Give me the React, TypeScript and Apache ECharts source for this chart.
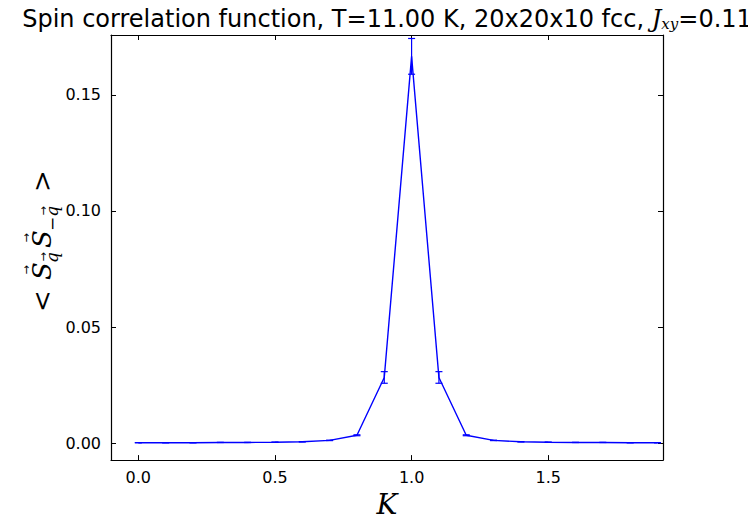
import React, { useEffect, useRef } from "react";
import * as echarts from "echarts";

const kValues = [0.0, 0.1, 0.2, 0.3, 0.4, 0.5, 0.6, 0.7, 0.8, 0.9, 1.0, 1.1, 1.2, 1.3, 1.4, 1.5, 1.6, 1.7, 1.8, 1.9];
const sValues = [0.0002, 0.0002, 0.0002, 0.0003, 0.0003, 0.0004, 0.0006, 0.0012, 0.0034, 0.0283, 0.1666, 0.0283, 0.0034, 0.0012, 0.0006, 0.0004, 0.0003, 0.0003, 0.0002, 0.0002];
const sErrors = [0.00002, 0.00002, 0.00002, 0.00003, 0.00003, 0.00004, 0.00006, 0.0001, 0.0002, 0.0025, 0.0077, 0.0025, 0.0002, 0.0001, 0.00006, 0.00004, 0.00003, 0.00003, 0.00002, 0.00002];
const xTicks = [0.0, 0.5, 1.0, 1.5];
const yTicks = [0.0, 0.05, 0.1, 0.15];

const BLUE = "#0000ff";
const SERIF = "DejaVu Serif";

function mathText(text: string, x: number, y: number, size: number, italic: boolean) {
  return {
    type: "text",
    x,
    y,
    style: {
      text,
      fontFamily: SERIF,
      fontStyle: italic ? "italic" : "normal",
      fontSize: size,
      fill: "#000",
      textAlign: "left",
      textVerticalAlign: "bottom",
    },
  };
}

function arrow(cx: number, y: number) {
  return {
    type: "text",
    x: cx,
    y,
    style: {
      text: "\u2192",
      fontFamily: "DejaVu Sans",
      fontSize: 11,
      fill: "#000",
      textAlign: "center",
      textVerticalAlign: "bottom",
    },
  };
}

export default function App() {
  const ref = useRef<HTMLDivElement>(null);
  useEffect(() => {
    if (!ref.current) return;
    const chart = echarts.init(ref.current, null, { renderer: "svg" });
    const lineData = kValues.map((k, i) => [k, sValues[i]]);
    const errData = kValues.map((k, i) => [k, sValues[i] - sErrors[i], sValues[i] + sErrors[i]]);
    const tickLabelStyle = { fontFamily: "DejaVu Sans", fontSize: 16, color: "#000" };
    const frameLine = { show: true, onZero: false, lineStyle: { color: "#000", width: 1.2 } };
    chart.setOption({
      animation: false,
      backgroundColor: "#fff",
      grid: { left: 111, right: 85, top: 35, bottom: 62, containLabel: false },
      graphic: [
        {
          type: "text",
          x: 387,
          y: 31,
          style: {
            text: "Spin correlation function, T=11.00 K, 20x20x10 fcc, {it|J}{sub|xy}=0.11",
            fontFamily: "DejaVu Sans",
            fontSize: 24,
            fill: "#000",
            textAlign: "center",
            textVerticalAlign: "bottom",
            rich: {
              it: { fontFamily: SERIF, fontStyle: "italic", fontSize: 24, color: "#000" },
              sub: { fontFamily: SERIF, fontStyle: "italic", fontSize: 15, verticalAlign: "bottom", color: "#000" },
            },
          },
        },
        {
          type: "group",
          x: 55,
          y: 240,
          rotation: Math.PI / 2,
          children: [
            mathText("<", -72, 0, 26, false),
            mathText("S", -40, 0, 26, true),
            arrow(-30, -23),
            mathText("q", -23, 5, 17, true),
            arrow(-17, -6),
            mathText("S", -8, 0, 26, true),
            arrow(2, -23),
            mathText("\u2212q", 9, 5, 17, true),
            arrow(29, -6),
            mathText(">", 48, 0, 26, false),
          ],
        },
      ],
      xAxis: [
        {
          type: "value",
          min: -0.1,
          max: 1.92,
          position: "bottom",
          name: "K",
          nameLocation: "middle",
          nameGap: 27,
          nameTextStyle: { fontFamily: SERIF, fontStyle: "italic", fontSize: 28, color: "#000" },
          axisLine: frameLine,
          axisTick: { show: true, inside: true, length: 5, customValues: xTicks, lineStyle: { color: "#000" } },
          axisLabel: { show: true, customValues: xTicks, margin: 9, formatter: (v: number) => v.toFixed(1), ...tickLabelStyle },
          splitLine: { show: false },
        },
        {
          type: "value",
          min: -0.1,
          max: 1.92,
          position: "top",
          axisLine: frameLine,
          axisTick: { show: true, inside: true, length: 5, customValues: xTicks, lineStyle: { color: "#000" } },
          axisLabel: { show: false },
          splitLine: { show: false },
        },
      ],
      yAxis: [
        {
          type: "value",
          min: -0.0073,
          max: 0.1758,
          position: "left",
          axisLine: frameLine,
          axisTick: { show: true, inside: true, length: 5, customValues: yTicks, lineStyle: { color: "#000" } },
          axisLabel: { show: true, customValues: yTicks, margin: 10, formatter: (v: number) => v.toFixed(2), ...tickLabelStyle },
          splitLine: { show: false },
        },
        {
          type: "value",
          min: -0.0073,
          max: 0.1758,
          position: "right",
          axisLine: frameLine,
          axisTick: { show: true, inside: true, length: 5, customValues: yTicks, lineStyle: { color: "#000" } },
          axisLabel: { show: false },
          splitLine: { show: false },
        },
      ],
      series: [
        {
          type: "line",
          data: lineData,
          xAxisIndex: 0,
          yAxisIndex: 0,
          showSymbol: false,
          symbol: "none",
          lineStyle: { color: BLUE, width: 1.4 },
          clip: true,
          z: 3,
        },
        {
          type: "custom",
          xAxisIndex: 0,
          yAxisIndex: 0,
          data: errData,
          clip: true,
          z: 4,
          renderItem: (params: any, api: any) => {
            const x = api.value(0);
            const lo = api.coord([x, api.value(1)]);
            const hi = api.coord([x, api.value(2)]);
            const w = 3.5;
            const style = { stroke: BLUE, lineWidth: 1.2 };
            return {
              type: "group",
              children: [
                { type: "line", shape: { x1: lo[0], y1: lo[1], x2: hi[0], y2: hi[1] }, style },
                { type: "line", shape: { x1: lo[0] - w, y1: lo[1], x2: lo[0] + w, y2: lo[1] }, style },
                { type: "line", shape: { x1: hi[0] - w, y1: hi[1], x2: hi[0] + w, y2: hi[1] }, style },
              ],
            };
          },
        },
      ],
    });
    return () => chart.dispose();
  }, []);
  return <div ref={ref} style={{ position: "absolute", left: 0, top: 0, width: 748, height: 523 }} />;
}
